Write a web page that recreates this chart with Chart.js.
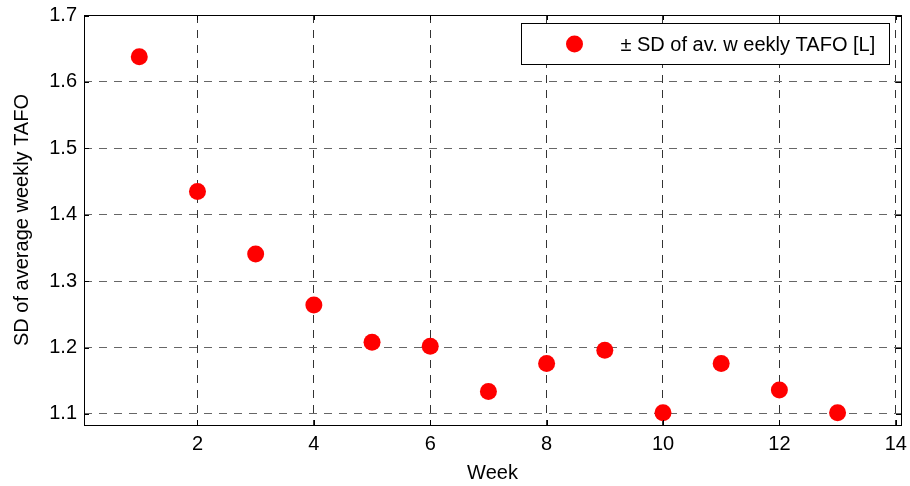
<!DOCTYPE html>
<html>
<head>
<meta charset="utf-8">
<script src="https://cdn.jsdelivr.net/npm/chart.js@4.4.1/dist/chart.umd.min.js"></script>
<style>
  html, body { margin: 0; padding: 0; background: #fff; }
  #wrap { width: 910px; height: 486px; }
</style>
</head>
<body>
<div id="wrap"><canvas id="c" width="910" height="486"></canvas></div>
<script>
const weeks = [1, 2, 3, 4, 5, 6, 7, 8, 9, 10, 11, 12, 13];
const sdValues = [1.638, 1.435, 1.341, 1.264, 1.208, 1.202, 1.134, 1.176, 1.196, 1.102, 1.176, 1.136, 1.102];
const xTicks = [2, 4, 6, 8, 10, 12, 14];
const yTicks = [1.1, 1.2, 1.3, 1.4, 1.5, 1.6, 1.7];
const seriesLabel = '± SD of av. w eekly TAFO [L]';
const xTitle = 'Week';
const yTitle = 'SD of average weekly TAFO';

const FONT = '"Liberation Sans", Arial, sans-serif';
const FS = 20;

const framePlugin = {
  id: 'frame',
  afterDatasetsDraw(chart) {
    const { ctx, chartArea: a, scales } = chart;
    ctx.save();
    ctx.strokeStyle = '#000';
    ctx.lineWidth = 1;
    ctx.setLineDash([]);
    const tl = 5;
    ctx.beginPath();
    xTicks.forEach(v => {
      const x = Math.round(scales.x.getPixelForValue(v)) + 0.5;
      ctx.moveTo(x, a.bottom); ctx.lineTo(x, a.bottom - tl);
      ctx.moveTo(x, a.top); ctx.lineTo(x, a.top + tl);
    });
    yTicks.forEach(v => {
      const y = Math.round(scales.y.getPixelForValue(v)) + 0.5;
      ctx.moveTo(a.left, y); ctx.lineTo(a.left + tl, y);
      ctx.moveTo(a.right, y); ctx.lineTo(a.right - tl, y);
    });
    ctx.stroke();
    ctx.strokeRect(Math.round(a.left) + 0.5, Math.round(a.top) + 0.5,
                   Math.round(a.right - a.left), Math.round(a.bottom - a.top));
    // legend
    const ds = chart.data.datasets[0];
    const bw = 368, bh = 41;
    const bx = Math.round(a.right - 12 - bw) + 0.5;
    const by = Math.round(a.top + 8) + 0.5;
    ctx.fillStyle = '#fff';
    ctx.fillRect(bx, by, bw, bh);
    ctx.strokeRect(bx, by, bw, bh);
    ctx.beginPath();
    ctx.fillStyle = ds.backgroundColor;
    ctx.arc(bx + 53, by + bh / 2, 8.5, 0, Math.PI * 2);
    ctx.fill();
    ctx.fillStyle = '#000';
    ctx.font = FS + 'px ' + FONT;
    ctx.textBaseline = 'middle';
    ctx.textAlign = 'left';
    ctx.fillText(ds.label, bx + 99, by + bh / 2 + 1);
    ctx.restore();
  }
};

new Chart(document.getElementById('c'), {
  type: 'scatter',
  data: {
    datasets: [{
      label: seriesLabel,
      data: weeks.map((w, i) => ({ x: w, y: sdValues[i] })),
      backgroundColor: '#ff0000',
      borderColor: '#ff0000',
      borderWidth: 0,
      pointRadius: 8.5,
      pointHoverRadius: 8.5
    }]
  },
  options: {
    responsive: false,
    animation: false,
    layout: { padding: { top: 15, right: 9, left: 0, bottom: 0 } },
    plugins: { legend: { display: false }, tooltip: { enabled: false } },
    scales: {
      x: {
        type: 'linear',
        min: 0.05,
        max: 14.09,
        afterBuildTicks: s => { s.ticks = xTicks.map(v => ({ value: v })); },
        afterFit: s => { s.height = 61; s.paddingLeft = 0; s.paddingRight = 0; },
        grid: { color: '#333', lineWidth: 1, drawTicks: false, tickLength: 0 },
        border: { display: false, dash: [8, 7] },
        ticks: { color: '#000', font: { family: FONT, size: FS }, padding: 7, maxRotation: 0 },
        title: { display: true, text: xTitle, color: '#000', font: { family: FONT, size: FS }, padding: { top: 4, bottom: 1 } }
      },
      y: {
        type: 'linear',
        min: 1.0834,
        max: 1.7008,
        afterBuildTicks: s => { s.ticks = yTicks.map(v => ({ value: v })); },
        afterFit: s => { s.width = 84; s.paddingTop = 0; s.paddingBottom = 0; },
        grid: { color: '#666', lineWidth: 1, drawTicks: false, tickLength: 0 },
        border: { display: false, dash: [8, 7] },
        ticks: { color: '#000', font: { family: FONT, size: FS }, padding: 7, callback: v => v.toFixed(1) },
        title: { display: true, text: yTitle, color: '#000', font: { family: FONT, size: FS }, padding: { top: 10, bottom: 4 } }
      }
    }
  },
  plugins: [framePlugin]
});
</script>
</body>
</html>
